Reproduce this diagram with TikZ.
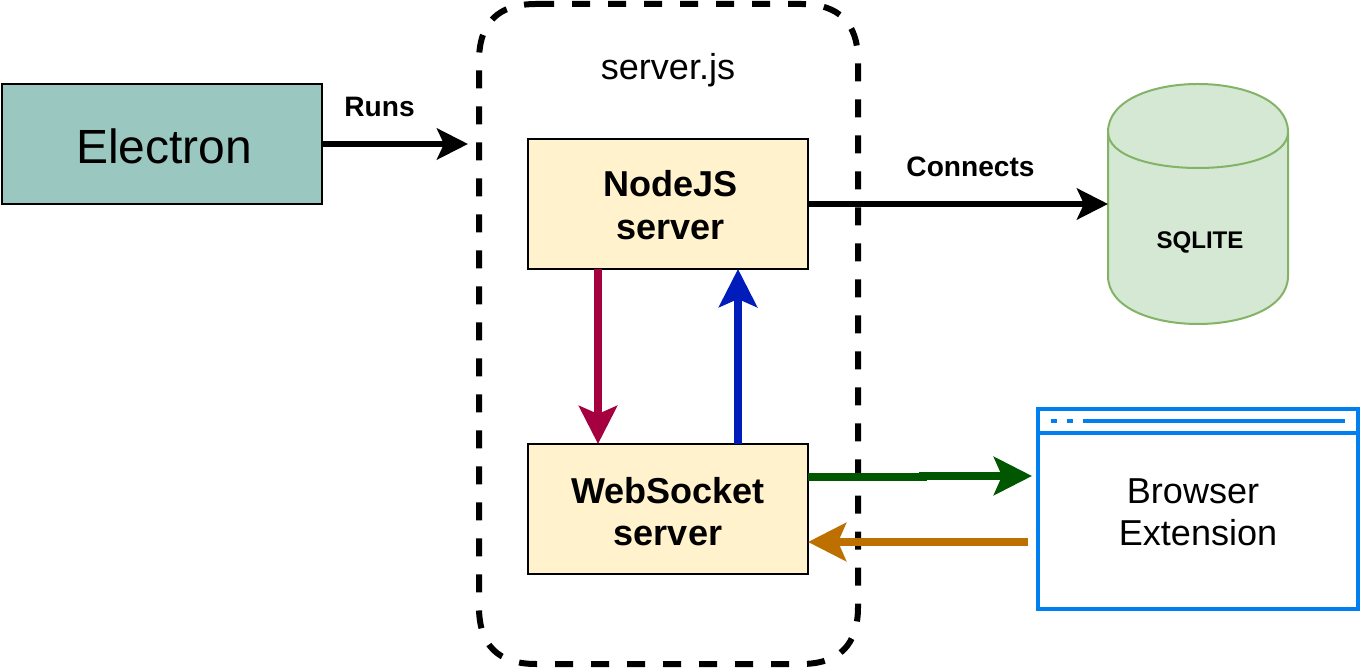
\documentclass[tikz,border=0pt]{standalone}
\usepackage{fontspec}
\setmainfont{Liberation Sans}
\usetikzlibrary{arrows.meta}
\definecolor{electronfill}{HTML}{9AC7BF}
\definecolor{serverfill}{HTML}{FFF2CC}
\definecolor{dbfill}{HTML}{D5E8D4}
\definecolor{dbline}{HTML}{82B366}
\definecolor{browserblue}{HTML}{007FF0}
\definecolor{crimson}{HTML}{A50040}
\definecolor{cobalt}{HTML}{001DBC}
\definecolor{darkgreen}{HTML}{005700}
\definecolor{ochre}{HTML}{BD7000}
\newcommand{\topstrut}{\rule{0pt}{17.8pt}}
\tikzset{
  box/.style={draw=black,line width=0.04cm,outer sep=0pt,inner sep=0pt,align=center},
  serverbox/.style={box,fill=serverfill,minimum width=5.6cm,minimum height=2.6cm,font=\fontsize{20.5}{24}\selectfont\bfseries},
  thinarrow/.style={line width=0.12cm,-{Stealth[length=0.62cm,width=0.62cm,inset=0.14cm]}},
  thickarrow/.style={line width=0.16cm,-{Stealth[length=0.76cm,width=0.76cm,inset=0.16cm]}},
  boldlabel/.style={font=\fontsize{16}{19}\selectfont\bfseries},
  browserline/.style={browserblue,line width=0.08cm},
}
\begin{document}
\begin{tikzpicture}
\useasboundingbox (0,0) rectangle (27.2,13.34);
\draw[line width=0.12cm,dash pattern=on 0.36cm off 0.36cm] (10.72,13.26) -- (16.02,13.26) .. controls (16.78,13.26) and (17.16,12.88) .. (17.16,12.12) -- (17.16,1.2) .. controls (17.16,0.44) and (16.78,0.06) .. (16.02,0.06) -- (10.72,0.06) .. controls (9.96,0.06) and (9.58,0.44) .. (9.58,1.2) -- (9.58,12.12) .. controls (9.58,12.88) and (9.96,13.26) .. (10.72,13.26) -- cycle;
\node[font=\fontsize{20.5}{24}\selectfont] (serverjs) at (13.36,11.94) {server.js};

\node[box,fill=electronfill,minimum width=6.4cm,minimum height=2.4cm,font=\fontsize{27.3}{32}\selectfont] (electron) at (3.24,10.46) {\rule{0pt}{22.2pt}\hspace*{0.08cm}Electron};
\node[serverbox] (nodejs) at (13.36,9.26) {\rule{0pt}{16.1pt}\hspace*{0.1cm}NodeJS\\\hspace*{0.1cm}server};
\node[serverbox] (websocket) at (13.36,3.16) {\topstrut WebSocket\\server};

% database drum
\node[outer sep=0pt,inner sep=0pt,minimum width=3.6cm,minimum height=4.8cm] (dbase) at (23.96,9.26) {};
\draw[draw=dbline,fill=dbfill,line width=0.04cm] ([yshift=-0.96cm]dbase.north west) .. controls ([yshift=0.32cm]dbase.north west) and ([yshift=0.32cm]dbase.north east) .. ([yshift=-0.96cm]dbase.north east) -- ([yshift=0.96cm]dbase.south east) .. controls ([yshift=-0.32cm]dbase.south east) and ([yshift=-0.32cm]dbase.south west) .. ([yshift=0.96cm]dbase.south west) -- cycle;
\draw[draw=dbline,line width=0.04cm] ([yshift=-0.96cm]dbase.north west) .. controls ([yshift=-1.92cm]dbase.north west) and ([yshift=-1.92cm]dbase.north east) .. ([yshift=-0.96cm]dbase.north east);
\node[font=\fontsize{13.7}{16}\selectfont\bfseries] (sqlite) at (24,8.5) {SQLITE};

\node[draw=browserblue,line width=0.08cm,outer sep=0pt,inner sep=0pt,minimum width=6.4cm,minimum height=4cm,align=center,font=\fontsize{20.5}{24}\selectfont] (browser) at (23.96,3.16) {\topstrut Browser\mbox{\ }\\Extension};
\draw[browserline] ([yshift=-0.48cm]browser.north west) -- ([yshift=-0.48cm]browser.north east);
\draw[browserline] ([xshift=0.26cm,yshift=-0.24cm]browser.north west) -- ([xshift=0.38cm,yshift=-0.24cm]browser.north west);
\draw[browserline] ([xshift=0.58cm,yshift=-0.24cm]browser.north west) -- ([xshift=0.7cm,yshift=-0.24cm]browser.north west);
\draw[browserline] ([xshift=0.9cm,yshift=-0.24cm]browser.north west) -- ([xshift=-0.26cm,yshift=-0.24cm]browser.north east);

\coordinate (runsend) at (9.36,10.46);
\draw[thinarrow] (electron.east) -- (runsend);
\node[boldlabel] (runs) at (7.59,11.2) {Runs};
\draw[thinarrow] (nodejs.east) -- (dbase.west);
\node[boldlabel] (connects) at (19.41,10) {Connects};

\draw[thickarrow,crimson] ([xshift=-1.4cm]nodejs.south) -- ([xshift=-1.4cm]websocket.north);
\draw[thickarrow,cobalt] ([xshift=1.4cm]websocket.north) -- ([xshift=1.4cm]nodejs.south);
\coordinate (greenbend) at (18.54,3.8);
\draw[darkgreen,line width=0.16cm] ([yshift=0.64cm]websocket.east) -- (greenbend);
\draw[thickarrow,darkgreen] (18.38,3.82) -- ([xshift=-0.12cm,yshift=0.66cm]browser.west);
\draw[thickarrow,ochre] ([xshift=-0.2cm,yshift=-0.66cm]browser.west) -- ([yshift=-0.66cm]websocket.east);
\end{tikzpicture}
\end{document}
